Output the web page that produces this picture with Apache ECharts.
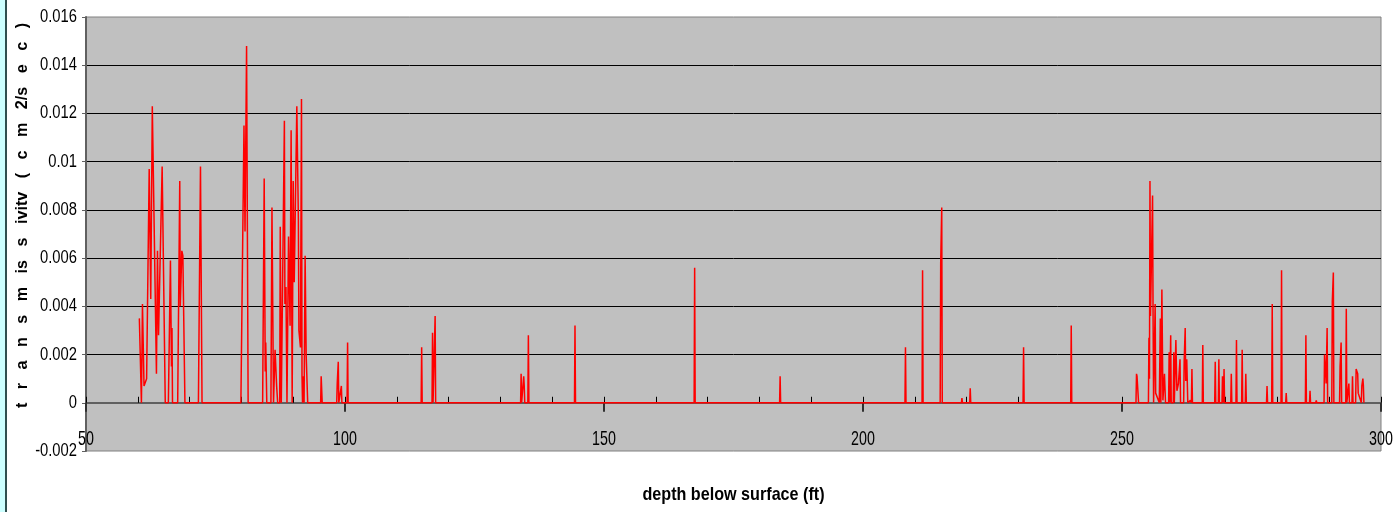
<!DOCTYPE html>
<html><head><meta charset="utf-8">
<script src="https://cdn.jsdelivr.net/npm/echarts@6/dist/echarts.min.js"></script>
<style>html,body{margin:0;padding:0;background:#fff}#c{width:1399px;height:512px}</style>
</head><body><div id="c"></div>
<script>
// depth below surface (ft)
const depthFt = [
  60.3,60.5,60.7,60.9,61.2,61.7,62.2,62.5,62.8,63.6,63.8,64.0,64.7,65.3,65.9,66.3,66.5,66.6,66.7,67.7,68.1,68.2,68.5,68.7,69.1,71.7,72.1,72.4,
  79.9,80.5,80.7,81.0,81.3,84.1,84.4,84.6,84.7,84.9,85.7,85.9,86.2,86.5,86.6,86.8,87.0,87.4,87.5,87.7,88.0,88.3,88.4,88.6,88.8,89.1,89.4,89.6,89.8,
  90.0,90.2,90.7,91.0,91.1,91.4,91.6,91.7,91.8,92.0,92.1,92.3,92.5,92.7,92.8,
  95.3,95.4,95.6,98.4,98.5,98.7,98.8,99.3,99.4,100.4,100.5,100.6,
  114.7,114.8,114.9,116.8,116.9,117.0,117.3,117.4,117.5,
  133.9,134.0,134.1,134.4,134.5,134.6,134.7,135.3,135.4,135.5,
  144.3,144.4,144.5,167.4,167.5,167.6,183.9,184.0,184.1,
  208.1,208.2,208.3,211.4,211.5,211.6,214.9,215.0,215.2,215.3,219.0,219.1,219.2,220.6,220.7,220.8,230.9,231.0,231.1,240.1,240.2,240.3,
  252.7,252.8,252.9,253.1,253.2,
  255.1,255.2,255.3,255.4,255.5,255.7,255.9,256.0,256.1,256.4,256.5,257.2,257.4,257.5,257.7,257.9,258.2,258.4,
  259.0,259.1,259.2,259.4,259.5,259.9,260.0,260.1,260.4,260.6,260.9,261.2,261.3,261.9,262.0,262.2,262.3,262.5,262.7,263.2,263.4,263.5,263.6,
  265.5,265.6,265.7,
  267.9,268.0,268.1,268.6,268.7,268.8,269.3,269.4,269.6,269.7,269.8,271.0,271.1,271.2,272.0,272.1,272.2,273.1,273.2,273.3,273.8,273.9,274.0,
  277.9,278.0,278.1,278.9,279.0,279.1,280.7,280.8,280.9,281.6,281.7,281.8,285.4,285.5,285.6,286.2,286.3,286.4,287.4,287.5,287.6,
  289.0,289.1,289.3,289.4,289.6,289.7,290.5,290.6,290.8,290.9,292.0,292.1,292.3,292.4,293.2,293.3,293.4,293.7,293.8,293.9,294.4,294.5,294.6,
  295.1,295.2,295.5,295.6,296.2,296.3,296.5,296.6,296.7
];
// transmissivity (cm2/sec)
const transmissivity = [
  0.0035,0.0035,0,0.0041,0.0007,0.001,0.0097,0.0043,0.0123,0.0012,0.0063,0.0028,0.0098,0,0,0.0059,0.0015,0.0031,0,0,0.0092,0.004,0.0063,0.0061,0,0,0.0098,0,
  0,0.0115,0.0071,0.0148,0,0,0.0093,0.0013,0.0025,0,0,0.0081,0,0.0022,0.0022,0.0007,0,0,0.0073,0,0,0.0117,0.0041,0.0048,0,0.0069,0.0032,0.0113,0,
  0.0092,0.005,0.0123,0.0076,0.003,0.0023,0.0126,0.0011,0,0.0011,0,0.0061,0.002,0.002,0,
  0,0.0011,0,0,0.0008,0.0017,0,0.0007,0,0,0.0025,0,
  0,0.0023,0,0,0.0029,0,0,0.0036,0,
  0,0.0012,0,0,0.0011,0.0007,0,0,0.0028,0,
  0,0.0032,0,0,0.0056,0,0,0.0011,0,
  0,0.0023,0,0,0.0055,0,0,0.0058,0.0081,0,0,0.0002,0,0,0.0006,0,0,0.0023,0,0,0.0032,0,
  0,0.0012,0.0011,0.0011,0,
  0,0.0027,0.001,0.0092,0.0036,0.0061,0.0086,0.0035,0,0.0041,0.0004,0,0.0035,0,0.0047,0.0001,0.0012,0,
  0,0.0021,0,0.0028,0,0,0.0021,0,0.0026,0.0005,0.0008,0.0018,0,0,0.0017,0.0031,0.0009,0.0018,0,0.0001,0,0.0014,0,
  0,0.0024,0,
  0,0.0017,0,0,0.0018,0,0,0.0011,0,0.0014,0,0,0.0012,0,0,0.0026,0,0,0.0022,0,0,0.0012,0,
  0,0.0007,0,0,0.0041,0,0,0.0055,0,0,0.0004,0,0,0.0028,0,0,0.0005,0,0,0.0001,0,
  0,0.002,0.0013,0.0008,0.0031,0,0,0.0042,0.0054,0,0,0.0015,0.0025,0,0,0.0039,0,0,0.0008,0,0,0.0011,0,
  0,0.0014,0.0012,0.0004,0,0.0007,0.001,0.0007,0
];
const xTickLabels = [50, 100, 150, 200, 250, 300];
const yTickLabels = [-0.002, 0, 0.002, 0.004, 0.006, 0.008, 0.01, 0.012, 0.014, 0.016];
const xMinorStep = 10;
const xTitle = 'depth below surface (ft)';
const yTitleParts = ['t', 'r', 'a', 'n', 's', 'm', 'is', 's', 'ivitv', '(', 'c', 'm', '2/s', 'e', 'c', ')'];

// Condensed text rendering: a family token "sxNN" in the font list narrows glyphs to NN% width.
(function () {
  const P = CanvasRenderingContext2D.prototype;
  const orig = P.fillText;
  P.fillText = function (text, x, y, maxWidth) {
    const m = /sx(\d+)/.exec(this.font || '');
    if (!m) return orig.apply(this, arguments);
    const s = +m[1] / 100;
    this.save();
    this.translate(x, y);
    this.scale(s, 1);
    if (maxWidth === undefined) orig.call(this, text, 0, 0);
    else orig.call(this, text, 0, 0, maxWidth / s);
    this.restore();
  };
})();

const fam = k => '"Liberation Sans", Arial, sx' + k + ', sans-serif';

const xMin = xTickLabels[0], xMax = xTickLabels[xTickLabels.length - 1];
const xStep = xTickLabels[1] - xTickLabels[0];
const yMin = yTickLabels[0], yMax = yTickLabels[yTickLabels.length - 1];
const yStep = yTickLabels[1] - yTickLabels[0];

const chartH = 512, gridTop = 17, gridBottom = 61;
const gridH = chartH - gridTop - gridBottom;
const zeroOffset = -gridH * (0 - yMin) / (yMax - yMin);
const yTitle = yTitleParts.join('   ');

const chart = echarts.init(document.getElementById('c'), null, {renderer: 'canvas'});
chart.setOption({
  animation: false,
  backgroundColor: '#ffffff',
  graphic: [
    {type: 'rect', left: 0, top: 0, shape: {width: 5, height: 512}, style: {fill: '#CCFFFF'}, silent: true},
    {type: 'rect', left: 5, top: 0, shape: {width: 2, height: 512}, style: {fill: '#2F4F4F'}, silent: true}
  ],
  grid: {left: 86, right: 18, top: gridTop, bottom: gridBottom, show: true, backgroundColor: '#C0C0C0',
    borderColor: '#808080', borderWidth: 1, containLabel: false, outerBoundsMode: 'none'},
  xAxis: [
    {
      type: 'value', min: xMin, max: xMax, interval: xStep, position: 'bottom',
      axisLine: {show: false, onZero: false}, axisTick: {show: false}, splitLine: {show: false},
      axisLabel: {inside: true, margin: 1, color: '#000', fontFamily: fam(68), fontSize: 21},
      name: xTitle, nameLocation: 'middle', nameGap: 34, nameMoveOverlap: false,
      nameTextStyle: {color: '#000', fontFamily: fam(85), fontSize: 19, fontWeight: 'bold'}
    },
    {
      type: 'value', min: xMin, max: xMax, interval: xMinorStep, position: 'bottom',
      axisLine: {show: true, onZero: true, lineStyle: {color: '#606060', width: 2}},
      axisTick: {show: true, inside: true, length: 6, lineStyle: {color: '#000', width: 1}},
      axisLabel: {show: false}, splitLine: {show: false}
    },
    {
      type: 'value', min: xMin, max: xMax, interval: xStep, position: 'bottom', offset: zeroOffset,
      axisLine: {show: false, onZero: false},
      axisTick: {show: true, inside: false, length: 9, lineStyle: {color: '#303030', width: 2}},
      axisLabel: {show: false}, splitLine: {show: false}
    }
  ],
  yAxis: {
    type: 'value', min: yMin, max: yMax, interval: yStep,
    axisLine: {show: true, onZero: false, lineStyle: {color: '#606060', width: 2}},
    axisTick: {show: true, length: 4, lineStyle: {color: '#606060'}},
    axisLabel: {margin: 9, color: '#000', fontFamily: fam(82), fontSize: 18,
      formatter: v => String(Math.round(v * 1000) / 1000)},
    splitLine: {show: true, showMinLine: false, showMaxLine: false, lineStyle: {color: '#000', width: 1}},
    name: yTitle, nameLocation: 'middle', nameRotate: 90, nameGap: 55, nameMoveOverlap: false,
    nameTextStyle: {color: '#000', fontFamily: fam(95), fontSize: 17, fontWeight: 'bold', padding: [0, 0, 0, 37]}
  },
  series: [{
    type: 'line', xAxisIndex: 0, yAxisIndex: 0,
    data: depthFt.map((d, i) => [d, transmissivity[i]]),
    showSymbol: false, symbol: 'none',
    lineStyle: {color: '#FF0000', width: 1.5},
    z: 5
  }]
});
</script>
</body></html>
